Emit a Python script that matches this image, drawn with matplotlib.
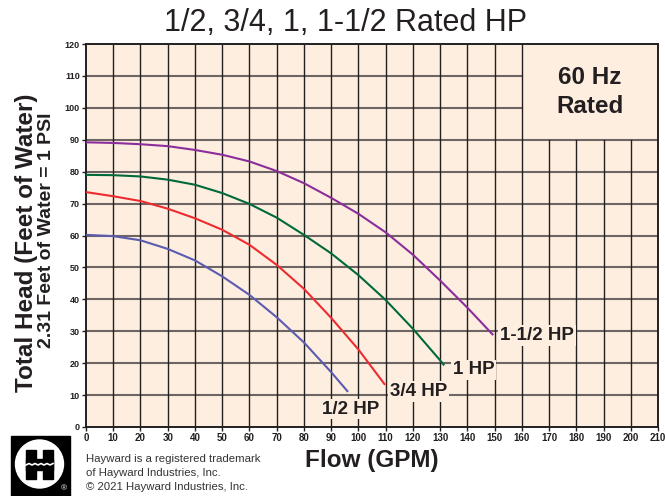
import matplotlib
matplotlib.use("Agg")
import matplotlib.pyplot as plt
from matplotlib import font_manager
from matplotlib.patches import Rectangle, Circle

# ---------------- data ----------------
hp_labels = ["1/2 HP", "3/4 HP", "1 HP", "1-1/2 HP"]

q_half = [0, 10, 20, 30, 40, 50, 60, 70, 80, 90, 96.2]
h_half = [60.2, 59.8, 58.5, 55.8, 52.2, 47.2, 41.4, 34.4, 26.5, 17.2, 11.0]

q_3q = [0, 10, 20, 30, 40, 50, 60, 70, 80, 90, 100, 109.8]
h_3q = [73.6, 72.3, 70.8, 68.4, 65.4, 61.8, 57.1, 50.8, 43.3, 34.2, 24.3, 13.2]

q_1 = [0, 10, 20, 30, 40, 50, 60, 70, 80, 90, 100, 110, 120, 130, 131.5]
h_1 = [79.0, 78.9, 78.5, 77.5, 75.9, 73.3, 69.9, 65.6, 60.2, 54.4, 47.6, 39.8, 30.8, 20.9, 19.3]

q_15 = [0, 10, 20, 30, 40, 50, 60, 70, 80, 90, 100, 110, 120, 130, 140, 149.5]
h_15 = [89.2, 89.0, 88.6, 88.0, 86.8, 85.3, 83.2, 80.2, 76.4, 71.8, 66.8, 61.0, 54.0, 45.9, 37.4, 28.8]

x_ticks = list(range(0, 211, 10))
y_ticks = list(range(0, 121, 10))

# label anchor positions (data coords)
label_x = [86.5, 111.6, 134.7, 152.0]
label_y = [5.6, 11.1, 17.9, 28.7]

colors = ["#5b5bb0", "#ee2b2f", "#00693a", "#8c2d9c"]
BG = "#fdeee0"
DARK = "#231f20"

# ---------------- fonts ----------------
avail = {f.name for f in font_manager.fontManager.ttflist}
MAIN = "Liberation Sans" if "Liberation Sans" in avail else "DejaVu Sans"
plt.rcParams["font.family"] = [MAIN, "DejaVu Sans"]

fig = plt.figure(figsize=(6.65, 4.96), dpi=100)
ax = fig.add_axes([86 / 665, 1 - 427 / 496, 572 / 665, 383 / 496])
ax.set_facecolor(BG)
ax.set_xlim(0, 210)
ax.set_ylim(0, 120)

# grid (box region 160-210 x 90-120 kept clear)
for yv in y_ticks[1:-1]:
    xmax = 160 / 210 if yv > 90 else 1
    ax.axhline(yv, xmin=0, xmax=xmax, color="#6e6562", lw=1.5, zorder=1)
for xv in x_ticks[1:-1]:
    ymax = 90 / 120 if xv > 160 else 1
    ax.axvline(xv, ymin=0, ymax=ymax, color=DARK, lw=1.0, zorder=1)

# curves
series = [(q_half, h_half), (q_3q, h_3q), (q_1, h_1), (q_15, h_15)]
for (q, h), c in zip(series, colors):
    ax.plot(q, h, color=c, lw=1.5, zorder=3, solid_capstyle="butt",
            solid_joinstyle="round")

for lab, lx, ly in zip(hp_labels, label_x, label_y):
    ax.text(lx, ly, lab, ha="left", va="center", fontsize=13.5, fontweight="bold",
            color=DARK, zorder=4,
            bbox=dict(facecolor=BG, edgecolor="none", pad=1.2))

ax.text(185, 105.0, "60 Hz\nRated", ha="center", va="center", fontsize=17.5,
        fontweight="bold", color=DARK, linespacing=1.3, zorder=4)

ax.set_xticks(x_ticks)
ax.set_yticks(y_ticks)
ax.set_xticklabels([str(v) for v in x_ticks], fontsize=7, fontweight="bold", color=DARK)
ax.set_yticklabels([str(v) for v in y_ticks], fontsize=6.5, fontweight="bold", color=DARK)
ax.tick_params(axis="both", length=3, width=1, color=DARK, pad=1.5)
for s in ax.spines.values():
    s.set_color(DARK)
    s.set_linewidth(1.4)

# texts
fig.text(345 / 665, 1 - 23 / 496, "1/2, 3/4, 1, 1-1/2 Rated HP", ha="center", va="center",
         fontsize=22, color=DARK)
fig.text(372 / 665, 1 - 461 / 496, "Flow (GPM)", ha="center", va="center",
         fontsize=17.5, fontweight="bold", color=DARK)
fig.text(27 / 665, 1 - 243 / 496, "Total Head (Feet of Water)", ha="center", va="center",
         rotation=90, fontsize=17.5, fontweight="bold", color=DARK)
fig.text(47 / 665, 1 - 230 / 496, "2.31 Feet of Water = 1 PSI", ha="center", va="center",
         rotation=90, fontsize=14, fontweight="bold", color=DARK)
fig.text(86 / 665, 1 - 454 / 496,
         "Hayward is a registered trademark\nof Hayward Industries, Inc.\n\u00a9 2021 Hayward Industries, Inc.",
         ha="left", va="top", fontsize=8.2,
         color="#333333", linespacing=1.5)

# logo
lg = fig.add_axes([0, 0, 1, 1], zorder=-1)
lg.set_xlim(0, 665)
lg.set_ylim(496, 0)
lg.axis("off")
lg.add_patch(Rectangle((11, 436), 59, 60, color="black"))
lg.add_patch(Circle((39.5, 464), 24, color="white"))
lg.add_patch(Rectangle((26, 450), 10, 29, color="black"))
lg.add_patch(Rectangle((43, 450), 10, 29, color="black"))
lg.add_patch(Rectangle((26, 459), 27, 11, color="black"))
lg.plot([26, 29, 32, 35, 38, 41, 44, 47, 50, 53],
        [465, 463.5, 465, 463.5, 465, 463.5, 465, 463.5, 465, 463.5], color="white", lw=1.2)
lg.text(64, 489, "\u00ae", color="white", fontsize=6, ha="center", va="center")

fig.savefig("out.png", dpi=100, facecolor="white")
